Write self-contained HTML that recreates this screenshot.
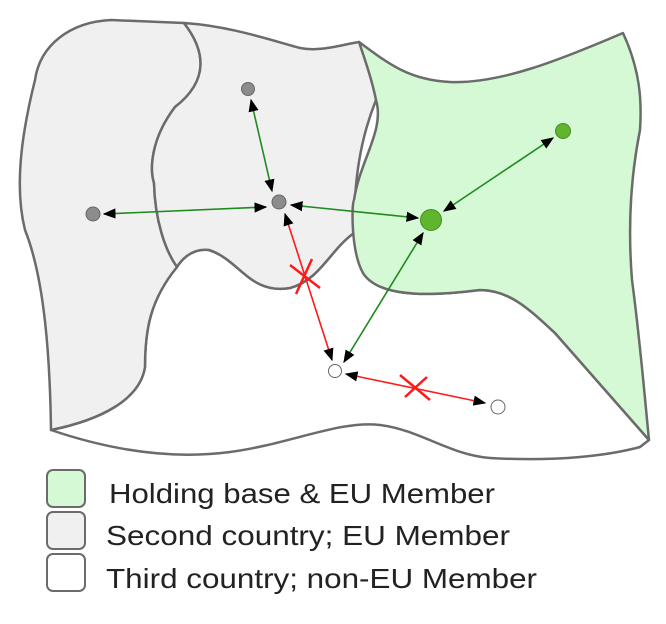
<!DOCTYPE html>
<html><head><meta charset="utf-8"><style>
body{margin:0;background:#fff;width:666px;height:619px;overflow:hidden;font-family:"Liberation Sans",Arial,sans-serif}
</style></head><body>
<svg width="666" height="619" viewBox="0 0 666 619" xmlns="http://www.w3.org/2000/svg">
<defs>
<marker id="a" viewBox="0 0 10 10" refX="9" refY="5" markerWidth="8" markerHeight="8" orient="auto-start-reverse"><path d="M0,1 L10,5 L0,9 z" fill="#000"/></marker>
</defs>
<g stroke="#6b6b6b" stroke-width="2.5" stroke-linejoin="round">
<path d="M51,430 C110,450 170,460 230,452 C290,444 340,420 380,425 C420,430 450,455 490,458 C560,462 610,455 640,447 L649,440 L555,333 C530,310 510,290 480,290 C440,295 380,300 363,273 L354,233 C330,250 320,280 290,288 C250,295 240,260 209,250 C190,248 180,262 177,267 C150,300 145,330 145,367 C140,400 100,420 51,430 Z" fill="#fff"/>
<path d="M111,20 L184,23 C205,50 210,80 175,107 C150,140 150,170 154,183 C155,220 165,250 177,267 C150,300 145,330 145,367 C140,400 100,420 51,430 C50,360 45,280 25,230 C15,190 20,140 35,80 C40,45 70,22 111,20 Z" fill="#f0f0f0"/>
<path d="M184,23 C230,26 270,40 300,48 C320,52 340,45 359,42 C370,60 385,80 376,100 C360,140 354,180 354,233 C330,250 320,280 290,288 C250,295 240,260 209,250 C190,248 180,262 177,267 C165,250 155,220 154,183 C150,170 150,140 175,107 C210,80 205,50 184,23 Z" fill="#f0f0f0"/>
<path d="M359,42 C390,65 410,80 450,82 C500,84 560,60 623,33 C640,70 642,100 640,130 C630,180 628,230 632,280 C640,340 645,400 649,440 L555,333 C530,310 510,290 480,290 C440,295 380,300 363,273 C350,250 352,200 354,200 C360,160 385,130 376,100 C372,80 365,60 359,42 Z" fill="#d4f9d4"/>
</g>
<g stroke-width="1.6" fill="none">
<line x1="251" y1="100" x2="272" y2="191" stroke="#1f8a1f" marker-start="url(#a)" marker-end="url(#a)"/>
<line x1="104" y1="214" x2="266" y2="207" stroke="#1f8a1f" marker-start="url(#a)" marker-end="url(#a)"/>
<line x1="291" y1="205" x2="418" y2="218" stroke="#1f8a1f" marker-start="url(#a)" marker-end="url(#a)"/>
<line x1="444" y1="211" x2="553" y2="138" stroke="#1f8a1f" marker-start="url(#a)" marker-end="url(#a)"/>
<line x1="423" y1="233" x2="344" y2="362" stroke="#1f8a1f" marker-start="url(#a)" marker-end="url(#a)"/>
<line x1="285" y1="214" x2="332" y2="360" stroke="#ff1a1a" marker-start="url(#a)" marker-end="url(#a)"/>
<line x1="346" y1="374" x2="485" y2="403" stroke="#ff1a1a" marker-start="url(#a)" marker-end="url(#a)"/>
</g>
<g stroke="#ff1a1a" stroke-width="2.5">
<line x1="290" y1="265" x2="320" y2="288"/><line x1="312" y1="259" x2="296" y2="294"/>
<line x1="400" y1="375" x2="430" y2="400"/><line x1="427" y1="377" x2="405" y2="397"/>
</g>
<g stroke="#666" stroke-width="1">
<circle cx="248" cy="89" r="6.5" fill="#8c8c8c"/>
<circle cx="93" cy="214" r="7" fill="#8c8c8c"/>
<circle cx="279" cy="202" r="7" fill="#8c8c8c"/>
<circle cx="431" cy="220" r="10.5" fill="#5fb52b" stroke="#4a8a2a"/>
<circle cx="563" cy="131" r="7.5" fill="#5fb52b" stroke="#4a8a2a"/>
<circle cx="335" cy="371" r="6.5" fill="#fff"/>
<circle cx="498" cy="407" r="7" fill="#fff"/>
</g>
<g stroke="#6b6b6b" stroke-width="2">
<rect x="47" y="470" width="38" height="37" rx="6" fill="#d4f9d4"/>
<rect x="47" y="512" width="38" height="37" rx="6" fill="#f0f0f0"/>
<rect x="47" y="554" width="38" height="37" rx="6" fill="#fff"/>
</g>
<g font-family="Liberation Sans, Arial, sans-serif" font-size="28" fill="#222" lengthAdjust="spacingAndGlyphs">
<text x="109" y="503" textLength="386" lengthAdjust="spacingAndGlyphs">Holding base &amp; EU Member</text>
<text x="106" y="545" textLength="404" lengthAdjust="spacingAndGlyphs">Second country; EU Member</text>
<text x="106" y="588" textLength="431" lengthAdjust="spacingAndGlyphs">Third country; non-EU Member</text>
</g>
</svg>
</body></html>
